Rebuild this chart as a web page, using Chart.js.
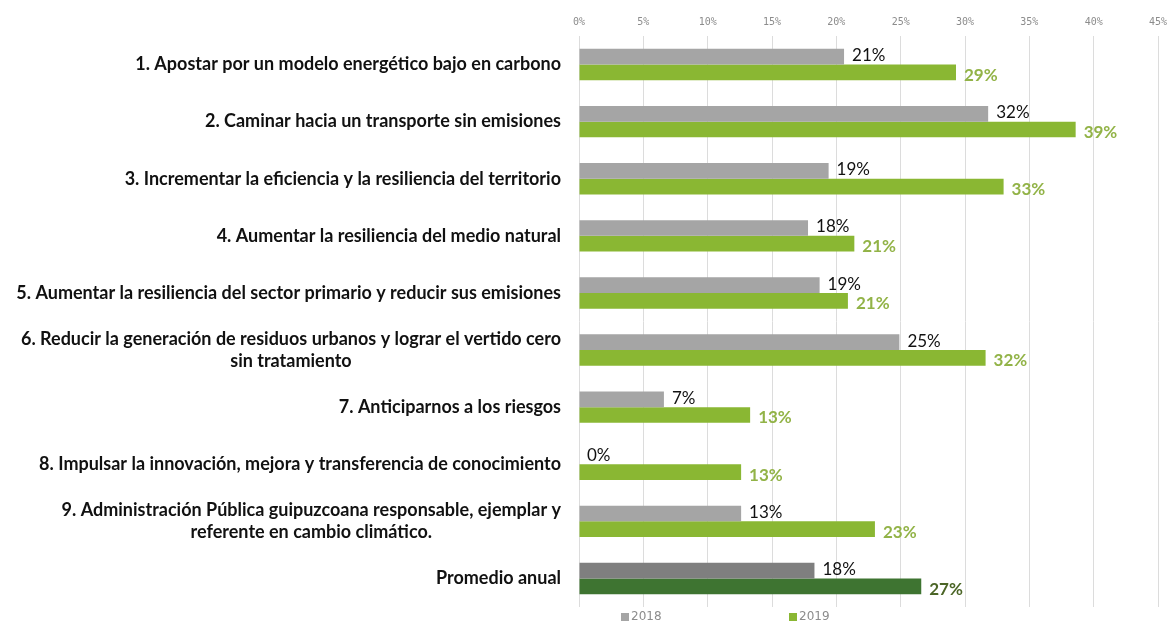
<!DOCTYPE html>
<html>
<head>
<meta charset="utf-8">
<script src="https://cdn.jsdelivr.net/npm/chart.js@4"></script>
<style>
  html, body { margin: 0; padding: 0; background: #fff; }
  #wrap { width: 1168px; height: 624px; }
</style>
</head>
<body>
<div id="wrap"><canvas id="chart"></canvas></div>
<script>
const categories = [
  ["1. Apostar por un modelo energético bajo en carbono"],
  ["2. Caminar hacia un transporte sin emisiones"],
  ["3. Incrementar la eficiencia y la resiliencia del territorio"],
  ["4. Aumentar la resiliencia del medio natural"],
  ["5. Aumentar la resiliencia del sector primario y reducir sus emisiones"],
  ["6. Reducir la generación de residuos urbanos y lograr el vertido cero", "sin tratamiento"],
  ["7. Anticiparnos a los riesgos"],
  ["8. Impulsar la innovación, mejora y transferencia de conocimiento"],
  ["9. Administración Pública guipuzcoana responsable, ejemplar y", "referente en cambio climático."],
  ["Promedio anual"],
];
const values2018 = [20.6, 31.8, 19.4, 17.8, 18.7, 24.9, 6.6, 0, 12.6, 18.3];
const values2019 = [29.3, 38.6, 33.0, 21.4, 20.9, 31.6, 13.3, 12.6, 23.0, 26.6];
const xTicks = [0, 5, 10, 15, 20, 25, 30, 35, 40, 45];

const grey = "#a5a5a5", greyDark = "#7f7f7f";
const green = "#8ab733", greenDark = "#3e7431";
const last = categories.length - 1;

// labels at the bar ends
const barLabels = {
  id: "barLabels",
  afterDatasetsDraw(chart) {
    const ctx = chart.ctx;
    ctx.save();
    ctx.textBaseline = "middle";
    ctx.textAlign = "left";
    chart.data.datasets.forEach((ds, di) => {
      chart.getDatasetMeta(di).data.forEach((bar, i) => {
        const txt = Math.round(ds.data[i]) + "%";
        if (di === 0) {
          ctx.font = "17px Lato";
          ctx.fillStyle = "#111";
          ctx.fillText(txt, bar.x + 8, bar.y - 1);
        } else {
          ctx.font = "bold 17px Lato";
          ctx.fillStyle = i === last ? "#4b6526" : "#92b347";
          ctx.fillText(txt, bar.x + 8, bar.y + 3);
        }
      });
    });
    ctx.restore();
  },
};

// category labels (block right-aligned, lines centred) and legend
const sideLabels = {
  id: "sideLabels",
  afterDraw(chart) {
    const ctx = chart.ctx;
    const y = chart.scales.y;
    const area = chart.chartArea;
    ctx.save();
    ctx.font = "bold 18px Lato";
    ctx.fillStyle = "#111";
    ctx.textBaseline = "middle";
    ctx.textAlign = "center";
    const lh = 22;
    categories.forEach((lines, i) => {
      const w = Math.max(...lines.map((l) => ctx.measureText(l).width));
      const cx = area.left - 18 - w / 2;
      const cy = y.getPixelForTick(i);
      lines.forEach((l, j) => {
        ctx.fillText(l, cx, cy + (j - (lines.length - 1) / 2) * lh);
      });
    });
    // legend
    ctx.font = "12px 'DejaVu Sans'";
    ctx.textAlign = "left";
    const items = [["2018", grey], ["2019", green]];
    const ly = chart.height - 7;
    items.forEach(([t, c], k) => {
      const lx = area.left + 42 + k * 168;
      ctx.fillStyle = c;
      ctx.fillRect(lx, ly - 4, 8, 8);
      ctx.fillStyle = "#8c8c8c";
      ctx.fillText(t, lx + 10, ly);
    });
    ctx.restore();
  },
};

new Chart(document.getElementById("chart"), {
  type: "bar",
  data: {
    labels: categories.map((l) => l.join(" ")),
    datasets: [
      {
        label: "2018",
        data: values2018,
        backgroundColor: values2018.map((_, i) => (i === last ? greyDark : grey)),
        categoryPercentage: 0.55,
        barPercentage: 1.0,
      },
      {
        label: "2019",
        data: values2019,
        backgroundColor: values2019.map((_, i) => (i === last ? greenDark : green)),
        categoryPercentage: 0.55,
        barPercentage: 1.0,
      },
    ],
  },
  options: {
    indexAxis: "y",
    responsive: true,
    maintainAspectRatio: false,
    animation: false,
    layout: { padding: { left: 579, right: 10, top: 8, bottom: 17 } },
    plugins: {
      legend: { display: false },
      tooltip: { enabled: false },
    },
    scales: {
      x: {
        position: "top",
        min: 0,
        max: 45,
        afterBuildTicks(scale) {
          scale.ticks = xTicks.map((v) => ({ value: v }));
        },
        afterFit(scale) {
          scale.paddingLeft = 0;
          scale.paddingRight = 0;
        },
        border: { display: false },
        grid: { color: "#dcdcdc", drawTicks: false },
        ticks: {
          padding: 8,
          color: "#8c8c8c",
          font: { family: "DejaVu Sans Mono", size: 10 },
          callback: (v) => v + "%",
        },
      },
      y: {
        border: { display: false },
        grid: { display: false },
        ticks: { display: false },
        afterFit(scale) {
          scale.width = 0;
        },
      },
    },
  },
  plugins: [barLabels, sideLabels],
});
</script>
</body>
</html>
